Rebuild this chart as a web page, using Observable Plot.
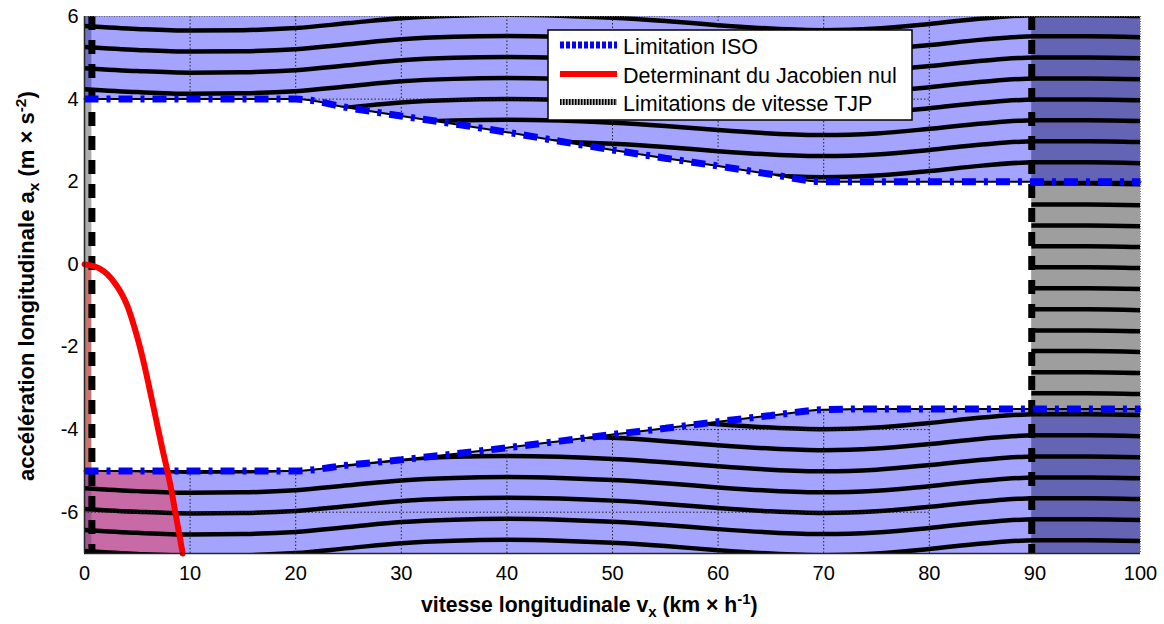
<!DOCTYPE html>
<html><head><meta charset="utf-8">
<script src="https://cdn.jsdelivr.net/npm/d3@7"></script>
<script src="https://cdn.jsdelivr.net/npm/@observablehq/plot@0.6"></script>
<style>
html,body{margin:0;padding:0;background:#fff;}
#chart{width:1164px;height:624px;position:relative;}
</style></head><body><div id="chart"></div>
<script>
// ---------- data ----------
const xTicks = [0,10,20,30,40,50,60,70,80,90,100];
const yTicks = [-6,-4,-2,0,2,4,6];
const xDomain = [0,100];
const yDomain = [-7,6];

// ISO limitation (upper / lower acceleration bounds) vs speed
const isoX     = [0,5,10,15,20,25,30,35,40,45,50,55,60,65,70,75,80,85,90,95,100];
const isoUpper = [4,4,4,4,4,3.79,3.59,3.4,3.2,2.98,2.77,2.57,2.38,2.18,2.0,2,2,2,2,2,2];
const isoLower = [-5,-5,-5,-5,-5,-4.86,-4.73,-4.59,-4.44,-4.28,-4.12,-3.97,-3.81,-3.66,-3.52,-3.5,-3.5,-3.5,-3.5,-3.5,-3.5];

// Jacobian determinant = 0 curve
const jacobX = [0,1.4,2.2,3.0,3.6,4.05,4.7,5.25,5.72,6.15,6.57,6.98,7.4,7.85,8.25,8.6,8.95,9.3];
const jacobY = [0,-0.1,-0.25,-0.5,-0.75,-1.0,-1.5,-2.0,-2.5,-3.0,-3.5,-4.0,-4.5,-5.0,-5.5,-6.0,-6.5,-7.0];

// TJP speed limitations
const tjpLimits = [0.7, 89.7];

// black iso-curves: common wave shape + offsets
const waveX = [0,5,10,15,20,25,30,35,40,45,50,55,60,65,70,75,80,85,90,95,100];
const wave  = [0,-0.07,-0.11,-0.1,-0.05,0.07,0.19,0.25,0.27,0.25,0.2,0.12,0.02,-0.06,-0.1,-0.06,0.05,0.18,0.26,0.26,0.24];
const lineOffsets = [5.77,5.26,4.75,4.24,3.73,3.23,2.72,2.21,1.70,1.19,0.68,0.18,-0.33,-0.84,-1.35,-1.86,-2.36,-2.87,-3.38,-3.89,-4.40,-4.91,-5.42,-5.92,-6.43,-6.94];

const gridXEnd = 80;
const legendLabels = ["Limitation ISO","Determinant du Jacobien nul","Limitations de vitesse TJP"];

// ---------- styles ----------
const FONT = "'Liberation Sans', Arial, Helvetica, sans-serif";
const C = {
  blue:"#a4a4ff", darkBlue:"#6464b4", gray:"#9e9e9e",
  stripTop:"#7070c6", stripGray:"#ababab", stripRed:"#c87472",
  pink:"#c86aa6", stripBottom:"#a25490"
};

// ---------- derived tables ----------
const iso = isoX.map((x,i)=>({x, hi:isoUpper[i], lo:isoLower[i]}));
const whiteZone = iso.filter(d=>d.x < tjpLimits[1])
  .concat([{x:tjpLimits[1], hi:isoUpper[isoUpper.length-1], lo:isoLower[isoLower.length-1]}]);
const hatch = lineOffsets.flatMap((c,k)=>waveX.map((x,i)=>({k, x, y:c+wave[i]})));
const jacob = jacobX.map((x,i)=>({x, y:jacobY[i]}));
const pink = jacob.filter(d=>d.y <= isoLower[0]).slice().reverse();
const lastLo = isoLower[isoLower.length-1], lastHi = isoUpper[isoUpper.length-1];

const grid = {stroke:"#222", strokeWidth:1, strokeDasharray:"1.5,2"};
const isoStyle = {stroke:"#0000ff", strokeWidth:7, strokeDasharray:"14,8,4,8", strokeLinecap:"butt", strokeLinejoin:"miter", curve:"monotone-x"};

const chart = Plot.plot({
  width:1164, height:624,
  marginLeft:84, marginRight:24, marginTop:16, marginBottom:71,
  style:{fontFamily:FONT, fontSize:"20px", color:"black", background:"white", overflow:"visible"},
  x:{domain:xDomain},
  y:{domain:yDomain},
  marks:[
    Plot.rect([0], {x1:xDomain[0], x2:xDomain[1], y1:yDomain[0], y2:yDomain[1], fill:C.blue}),
    Plot.rect([0], {x1:tjpLimits[1], x2:xDomain[1], y1:yDomain[0], y2:yDomain[1], fill:C.darkBlue}),
    Plot.rect([0], {x1:tjpLimits[1], x2:xDomain[1], y1:lastLo, y2:lastHi, fill:C.gray}),
    Plot.rect([0], {x1:xDomain[0], x2:tjpLimits[0], y1:isoUpper[0], y2:yDomain[1], fill:C.stripTop}),
    Plot.areaX(pink, {y:"y", x1:xDomain[0], x2:"x", fill:C.pink, curve:"monotone-y"}),
    Plot.rect([0], {x1:xDomain[0], x2:tjpLimits[0], y1:yDomain[0], y2:isoLower[0], fill:C.stripBottom}),
    Plot.line(hatch, {x:"x", y:"y", z:"k", stroke:"black", strokeWidth:4.5, curve:"monotone-x", clip:true}),
    Plot.ruleX(xTicks.filter(x=>x>xDomain[0] && x<tjpLimits[1]), grid),
    Plot.ruleY(yTicks.filter(y=>y>yDomain[0] && y<yDomain[1]), {x1:xDomain[0], x2:gridXEnd, ...grid}),
    Plot.areaY(whiteZone, {x:"x", y1:"lo", y2:"hi", fill:"white", curve:"monotone-x"}),
    Plot.rect([0], {x1:xDomain[0], x2:tjpLimits[0], y1:jacobY[0], y2:isoUpper[0], fill:C.stripGray}),
    Plot.rect([0], {x1:xDomain[0], x2:tjpLimits[0], y1:isoLower[0], y2:jacobY[0], fill:C.stripRed}),
    Plot.ruleX(tjpLimits, {stroke:"black", strokeWidth:7, strokeDasharray:"14,10", strokeLinecap:"butt"}),
    Plot.line(iso, {x:"x", y:"hi", stroke:"black", strokeWidth:2, curve:"monotone-x"}),
    Plot.line(iso, {x:"x", y:"lo", stroke:"black", strokeWidth:2, curve:"monotone-x"}),
    Plot.line(iso, {x:"x", y:"hi", ...isoStyle}),
    Plot.line(iso, {x:"x", y:"lo", ...isoStyle}),
    Plot.line(jacob, {x:"x", y:"y", stroke:"#ff0000", strokeWidth:6, curve:"monotone-x"}),
    Plot.ruleY([yDomain[1]], {stroke:"#666", strokeWidth:1, strokeDasharray:"1,1.5"}),
    Plot.ruleX([xDomain[1]], {stroke:"#666", strokeWidth:1, strokeDasharray:"1,1.5"}),
    Plot.ruleX([xDomain[0]], {stroke:"#262626", strokeWidth:1.5}),
    Plot.ruleY([yDomain[0]], {stroke:"#262626", strokeWidth:1.5}),
    Plot.axisX({ticks:xTicks, tickSize:0, tickPadding:12, tickFormat:d=>String(d), label:null, fontSize:20}),
    Plot.axisY({ticks:yTicks, tickSize:0, tickPadding:6, tickFormat:d=>String(d), label:null, fontSize:20})
  ]
});
document.getElementById("chart").appendChild(chart);

// ---------- axis titles and legend ----------
const svg = d3.select(chart);
const g = svg.append("g").attr("font-family", FONT).attr("fill","black").attr("text-anchor","start");

const xl = g.append("text").attr("x",421).attr("y",612).attr("text-anchor","start")
  .attr("font-size",21.2).attr("font-weight","bold");
xl.append("tspan").text("vitesse longitudinale v");
xl.append("tspan").attr("font-size",15).attr("dy",5).text("x");
xl.append("tspan").attr("dy",-5).text(" (km \u00d7 h");
xl.append("tspan").attr("font-size",15).attr("dy",-8).text("-1");
xl.append("tspan").attr("dy",8).text(")");

const yl = g.append("text").attr("transform","translate(34,481) rotate(-90)").attr("text-anchor","start")
  .attr("font-size",22).attr("font-weight","bold");
yl.append("tspan").text("acc\u00e9l\u00e9ration longitudinale a");
yl.append("tspan").attr("font-size",15.5).attr("dy",5).text("x");
yl.append("tspan").attr("dy",-5).text(" (m \u00d7 s");
yl.append("tspan").attr("font-size",15.5).attr("dy",-8).text("-2");
yl.append("tspan").attr("dy",8).text(")");

const lg = g.append("g");
lg.append("rect").attr("x",548).attr("y",30).attr("width",364).attr("height",90)
  .attr("fill","white").attr("stroke","black").attr("stroke-width",1.5);
const rowY = [45,74,102];
lg.append("line").attr("x1",560).attr("x2",617).attr("y1",rowY[0]).attr("y2",rowY[0])
  .attr("stroke","#0000ff").attr("stroke-width",7).attr("stroke-dasharray","4,2");
lg.append("line").attr("x1",560).attr("x2",617).attr("y1",rowY[1]).attr("y2",rowY[1])
  .attr("stroke","#ff0000").attr("stroke-width",6);
lg.append("line").attr("x1",560).attr("x2",617).attr("y1",rowY[2]).attr("y2",rowY[2])
  .attr("stroke","#b0b0b0").attr("stroke-width",6);
lg.append("line").attr("x1",560).attr("x2",617).attr("y1",rowY[2]).attr("y2",rowY[2])
  .attr("stroke","black").attr("stroke-width",6).attr("stroke-dasharray","1.5,1.5");
legendLabels.forEach((t,i)=>{
  lg.append("text").attr("x",623).attr("y",rowY[i]+9).attr("text-anchor","start")
    .attr("font-size",21.5).text(t);
});
</script></body></html>
